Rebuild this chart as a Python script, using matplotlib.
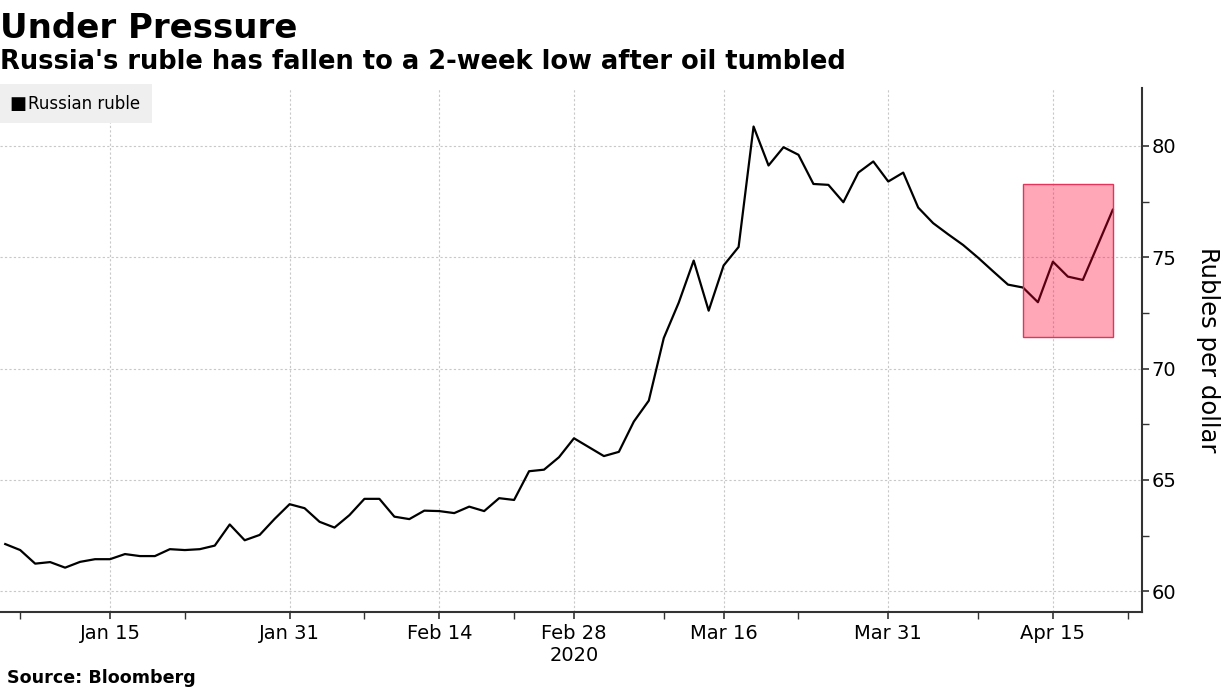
import matplotlib
matplotlib.use("Agg")
import matplotlib.pyplot as plt
import numpy as np
from matplotlib.patches import Rectangle

# USD/RUB, one value per trading day (Jan 6 - Apr 21, 2020)
rub = [
    62.12, 61.85, 61.24, 61.31, 61.06, 61.32, 61.44, 61.44, 61.67, 61.58,
    61.58, 61.89, 61.85, 61.89, 62.05, 63.00, 62.29, 62.53, 63.25, 63.91,
    63.73, 63.12, 62.86, 63.42, 64.15, 64.15, 63.35, 63.24, 63.62, 63.60,
    63.51, 63.80, 63.60, 64.18, 64.10, 65.39, 65.46, 66.02, 66.87, 66.47,
    66.07, 66.26, 67.62, 68.56, 71.37, 72.96, 74.85, 72.60, 74.63, 75.46,
    80.87, 79.12, 79.94, 79.60, 78.29, 78.25, 77.47, 78.80, 79.30, 78.40,
    78.80, 77.23, 76.53, 76.03, 75.55, 74.98, 74.37, 73.77, 73.64, 72.98,
    74.80, 74.13, 73.98, 75.55, 77.13,
]
tick_labels = ["Jan 15", "Jan 31", "Feb 14", "Feb 28\n2020", "Mar 16", "Mar 31", "Apr 15"]
tick_idx = [7, 19, 29, 38, 48, 59, 70]
minor_idx = [1, 12, 24, 34, 44, 53, 65, 75]
y_ticks = [60, 65, 70, 75, 80]

# highlighted window (trading-day index span, ruble range)
hl_start, hl_end = 68, 74
hl_low, hl_high = 71.41, 78.29

x = np.arange(len(rub))

fig = plt.figure(figsize=(12.25, 6.89), dpi=100)
ax = fig.add_axes([0.0, 0.1118, 0.9322, 0.7605])

ax.plot(x, rub, color="black", linewidth=1.6, zorder=3)
ax.add_patch(Rectangle((hl_start, hl_low), hl_end - hl_start, hl_high - hl_low,
                       facecolor=(1.0, 0.0, 0.2, 0.35),
                       edgecolor=(0.9, 0.2, 0.35), linewidth=1.0, zorder=4))

ax.set_xlim(-0.35, 75.95)
ax.set_ylim(59.07, 82.6)

ax.yaxis.tick_right()
ax.yaxis.set_label_position("right")
ax.set_yticks(y_ticks)
ax.set_yticks([62.5, 67.5, 72.5, 77.5], minor=True)
ax.set_xticks(tick_idx)
ax.set_xticklabels(tick_labels)
ax.set_xticks(minor_idx, minor=True)

ax.tick_params(axis="both", which="major", labelsize=14, length=5, width=1.2,
               color="#333333", direction="out")
ax.tick_params(axis="both", which="minor", length=5, width=1.0, color="#333333",
               direction="out")
ax.tick_params(axis="y", pad=2)
ax.tick_params(axis="x", pad=4)

for side in ("top", "left"):
    ax.spines[side].set_visible(False)
for side in ("right", "bottom"):
    ax.spines[side].set_color("#333333")
    ax.spines[side].set_linewidth(1.5)

ax.grid(True, which="major", color="#c8c8c8", linestyle=(0, (2, 2)), linewidth=0.8)
ax.set_axisbelow(True)

ax.set_ylabel("Rubles per dollar", fontsize=17.5, rotation=-90, labelpad=31)

fig.text(0.0, 0.945, "Under Pressure", fontsize=24.5, fontweight="bold", va="baseline")
fig.text(0.0, 0.9, "Russia's ruble has fallen to a 2-week low after oil tumbled",
         fontsize=18.5, fontweight="bold", va="baseline")
fig.text(0.006, 0.009, "Source: Bloomberg", fontsize=12.6, fontweight="bold", va="baseline")

# legend box
fig.patches.append(Rectangle((0.0, 0.821), 152 / 1225, 39 / 689, transform=fig.transFigure,
                             facecolor="#efefef", edgecolor="none", zorder=0))
fig.text(0.008, 0.849, "\u25a0", fontsize=13, va="center", color="black")
fig.text(0.023, 0.849, "Russian ruble", fontsize=12, va="center")

fig.savefig("out.png", dpi=100)
